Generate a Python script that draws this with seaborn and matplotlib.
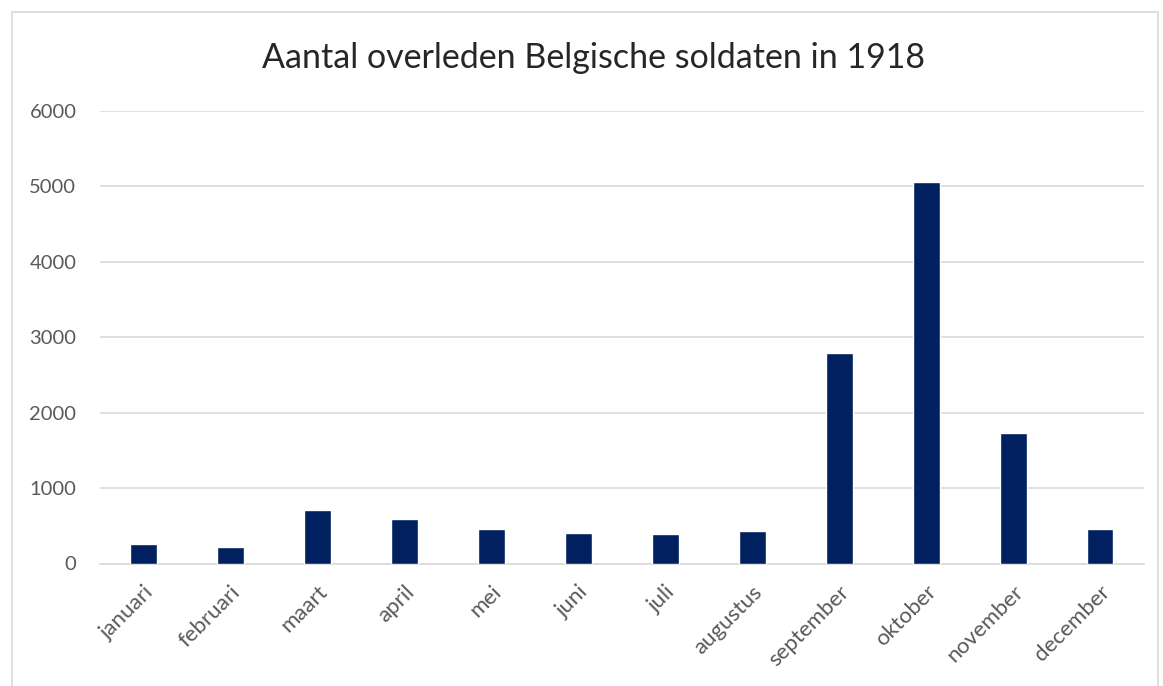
import matplotlib
matplotlib.use("Agg")
import matplotlib.pyplot as plt
import seaborn as sns
import pandas as pd
from matplotlib.patches import Rectangle

# Data
months = ["januari", "februari", "maart", "april", "mei", "juni",
          "juli", "augustus", "september", "oktober", "november", "december"]
deaths = [255, 223, 707, 595, 462, 409, 388, 436, 2797, 5064, 1735, 462]
y_ticks = [0, 1000, 2000, 3000, 4000, 5000, 6000]
title = "Aantal overleden Belgische soldaten in 1918"

bar_color = "#002060"
text_gray = "#595959"
grid_gray = "#D9D9D9"

sns.set_theme(style="white")
plt.rcParams["font.family"] = ["Lato", "DejaVu Sans"]

df = pd.DataFrame({"maand": months, "aantal": deaths})

fig = plt.figure(figsize=(11.63, 6.86), dpi=100)
ax = fig.add_axes([100 / 1163, 1 - 563.5 / 686, 1043.5 / 1163, 452.5 / 686])

sns.barplot(data=df, x="maand", y="aantal", color=bar_color, saturation=1,
            width=0.31, ax=ax, zorder=3)

ax.set_ylim(0, 6000)
ax.set_xlim(-0.5, len(months) - 0.5)
ax.set_yticks(y_ticks)
ax.set_yticklabels([str(t) for t in y_ticks])
ax.yaxis.grid(True, color=grid_gray, linewidth=1.2, zorder=0)
ax.set_xlabel("")
ax.set_ylabel("")
for side in ["top", "right", "left"]:
    ax.spines[side].set_visible(False)
ax.spines["bottom"].set_color(grid_gray)
ax.spines["bottom"].set_linewidth(1.2)

ax.tick_params(axis="y", length=0, pad=17, labelsize=14.5, labelcolor=text_gray)
ax.tick_params(axis="x", length=0, pad=13, labelsize=16, labelcolor=text_gray)
plt.setp(ax.get_xticklabels(), rotation=45, ha="right", rotation_mode="anchor")

fig.text(594 / 1163, 1 - 68 / 686, title, ha="center", va="baseline",
         fontsize=24.5, color="#262626")

# light chart border
fig.patches.append(Rectangle((12 / 1163, -0.05), 1146 / 1163, 1 - 12 / 686 + 0.05,
                             transform=fig.transFigure, fill=False,
                             edgecolor=grid_gray, linewidth=1.2))

fig.savefig("out.png", dpi=100, facecolor="white")
